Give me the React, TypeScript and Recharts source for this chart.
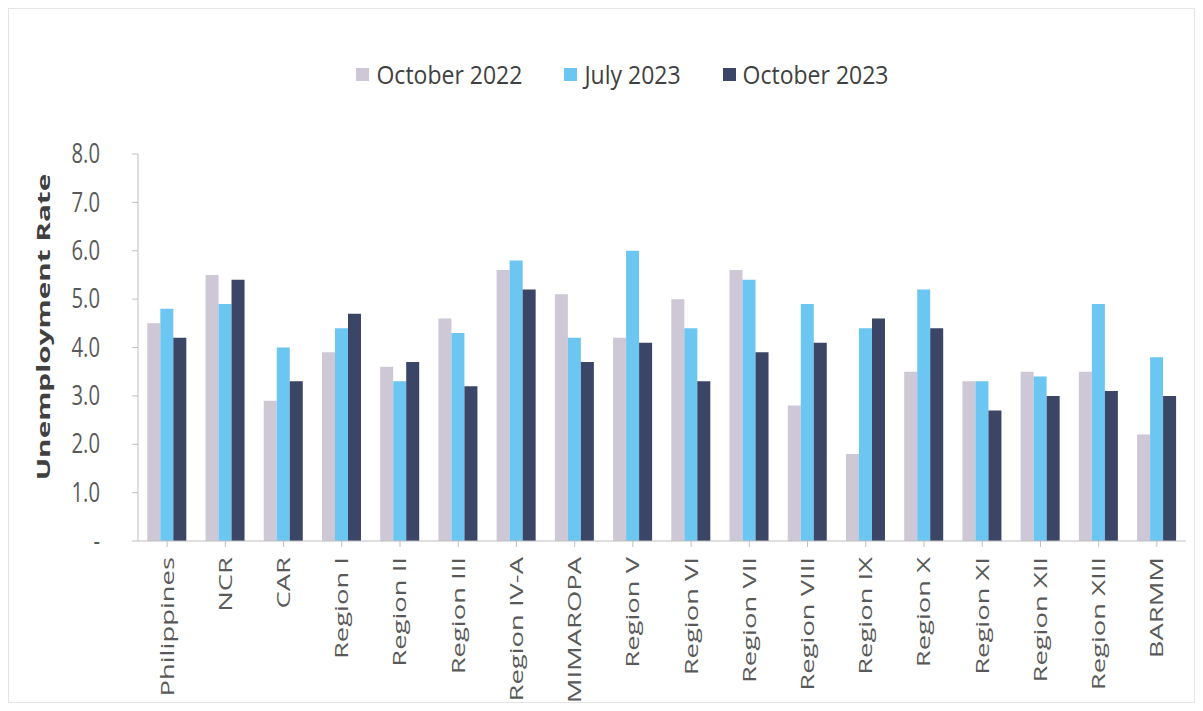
import React from "react";
import { BarChart, Bar, XAxis, YAxis } from "recharts";

const regions = [
  "Philippines",
  "NCR",
  "CAR",
  "Region I",
  "Region II",
  "Region III",
  "Region IV-A",
  "MIMAROPA",
  "Region V",
  "Region VI",
  "Region VII",
  "Region VIII",
  "Region IX",
  "Region X",
  "Region XI",
  "Region XII",
  "Region XIII",
  "BARMM",
];

const oct2022 = [4.5, 5.5, 2.9, 3.9, 3.6, 4.6, 5.6, 5.1, 4.2, 5.0, 5.6, 2.8, 1.8, 3.5, 3.3, 3.5, 3.5, 2.2];
const jul2023 = [4.8, 4.9, 4.0, 4.4, 3.3, 4.3, 5.8, 4.2, 6.0, 4.4, 5.4, 4.9, 4.4, 5.2, 3.3, 3.4, 4.9, 3.8];
const oct2023 = [4.2, 5.4, 3.3, 4.7, 3.7, 3.2, 5.2, 3.7, 4.1, 3.3, 3.9, 4.1, 4.6, 4.4, 2.7, 3.0, 3.1, 3.0];

const yTicks = [0, 1, 2, 3, 4, 5, 6, 7, 8];

const series = [
  { key: "oct2022", name: "October 2022", color: "#cdc7d6" },
  { key: "jul2023", name: "July 2023", color: "#6cc6f2" },
  { key: "oct2023", name: "October 2023", color: "#3b4566" },
];

const data = regions.map((name, i) => ({
  name,
  oct2022: oct2022[i],
  jul2023: jul2023[i],
  oct2023: oct2023[i],
}));

const FONT = "'Open Sans', 'Liberation Sans', sans-serif";
const TEXT = "#595959";

// category labels, rotated and stretched along their length like the scan
const RegionTick = (props: any) => {
  const { x, y, payload } = props;
  return (
    <text
      x={0}
      y={0}
      dy="0.35em"
      transform={`translate(${x},${y + 8}) rotate(-90) scale(1.48,1)`}
      textAnchor="end"
      fontSize={18.5}
      fontFamily={FONT}
      fill={TEXT}
    >
      {payload.value}
    </text>
  );
};

const ValueTick = (props: any) => {
  const { x, y, payload } = props;
  const label = payload.value === 0 ? "-" : payload.value.toFixed(1);
  return (
    <text
      x={0}
      y={0}
      dy="0.35em"
      transform={`translate(${x},${y}) scale(0.92,1.2)`}
      textAnchor="end"
      fontSize={22}
      fontFamily={FONT}
      fill={TEXT}
    >
      {label}
    </text>
  );
};

export default function App() {
  return (
    <div style={{ position: "relative", width: 1187, height: 695, border: "1px solid #e4e4e4", boxSizing: "border-box" }}>
      <BarChart
        width={1187}
        height={695}
        data={data}
        margin={{ top: 145, right: 10, bottom: 13, left: 69 }}
        barCategoryGap="16%"
        barGap={0}
      >
        <XAxis
          dataKey="name"
          interval={0}
          height={150}
          tick={<RegionTick />}
          tickLine={{ stroke: "#bfbfbf" }}
          axisLine={{ stroke: "#bfbfbf" }}
          tickSize={6}
        />
        <YAxis
          width={60}
          domain={[0, 8]}
          ticks={yTicks}
          tick={<ValueTick />}
          tickLine={{ stroke: "#bfbfbf" }}
          axisLine={{ stroke: "#bfbfbf" }}
          tickSize={6}
          tickMargin={32}
        />
        {series.map((s) => (
          <Bar key={s.key} dataKey={s.key} name={s.name} fill={s.color} isAnimationActive={false} />
        ))}
      </BarChart>
      <div
        style={{
          position: "absolute",
          left: 0,
          width: 1187,
          top: 49,
          display: "flex",
          justifyContent: "center",
          gap: 42,
          paddingLeft: 40,
          boxSizing: "border-box",
          fontFamily: FONT,
          fontSize: 23,
          color: "#404040",
        }}
      >
        {series.map((s) => (
          <div key={s.key} style={{ display: "flex", alignItems: "center" }}>
            <span style={{ display: "inline-block", width: 13, height: 13, background: s.color, marginRight: 7 }} />
            <span style={{ display: "inline-block", transform: "scaleY(1.1)" }}>{s.name}</span>
          </div>
        ))}
      </div>
      <div
        style={{
          position: "absolute",
          left: 34,
          top: 318,
          transform: "translate(-50%, -50%) rotate(-90deg) scaleX(1.65)",
          fontFamily: FONT,
          fontWeight: 700,
          fontSize: 18,
          color: "#404040",
          whiteSpace: "nowrap",
        }}
      >
        Unemployment Rate
      </div>
    </div>
  );
}
